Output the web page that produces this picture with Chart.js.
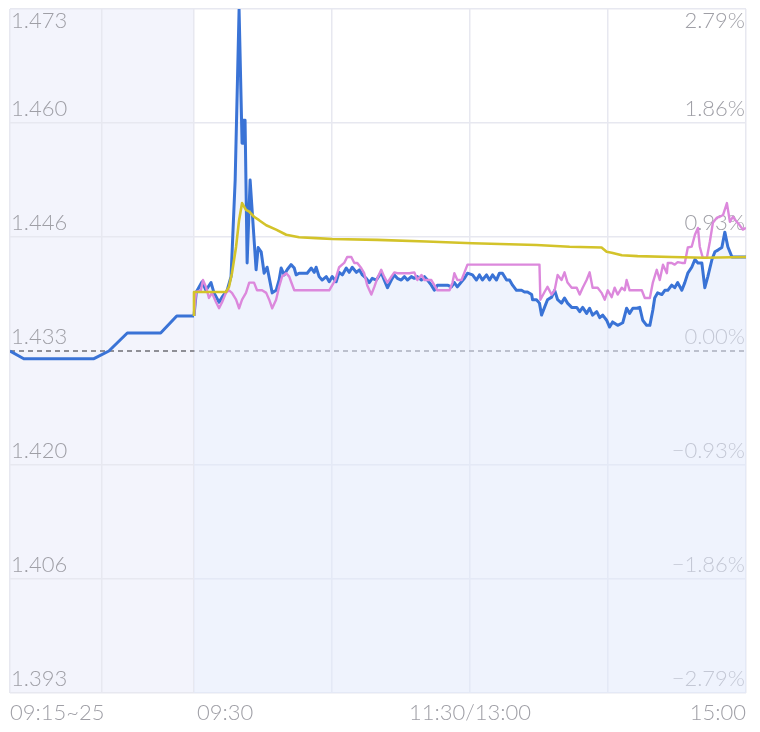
<!DOCTYPE html>
<html>
<head>
<meta charset="utf-8">
<script src="https://cdn.jsdelivr.net/npm/chart.js@4.4.1/dist/chart.umd.min.js"></script>
<style>
  html, body { margin: 0; padding: 0; background: #fff; }
  .chart-container { position: relative; width: 760px; height: 732px; }
</style>
</head>
<body>
<div class="chart-container"><canvas id="intraday"></canvas></div>
<script>
// previous close and price range of the y axis
const prevClose = 1.4333;
const priceMin = 1.3933;
const priceMax = 1.4733;

// tick labels (top to bottom)
const leftLabels = ["1.473", "1.460", "1.446", "1.433", "1.420", "1.406", "1.393"];
const rightLabels = ["2.79%", "1.86%", "0.93%", "0.00%", "\u22120.93%", "\u22121.86%", "\u22122.79%"];

// x axis: minutes from 09:30, auction before 0
const xGridValues = [-80, -40, 0, 60, 120, 180, 240];
const xLabelValues = [-80, 0, 120, 240];
const xLabels = ["09:15~25", "09:30", "11:30/13:00", "15:00"];
const xLabelAlign = ["left", "left", "center", "right"];

// call auction (09:15~25)
const auctionTimes = [-80, -74, -43.5, -37, -29, -14.5, -7.5, 0];
const auctionPrice = [1.4333, 1.4324, 1.4324, 1.4333, 1.4354, 1.4354, 1.4374, 1.4374];

// price
const priceTimes = [
  0, 1, 3.5, 5.2, 7.4, 8.7, 10.9, 12.2, 14.4, 16.1,
  17.9, 19.6, 20.9, 21.3, 22.2, 23.1, 24.4, 27.0, 27.9, 29.2,
  30.5, 31.8, 34.0, 35.7, 37.0, 37.9, 39.2, 40.5, 42.2, 43.6,
  44.4, 45.7, 49.2, 51.0, 52.3, 53.1, 54.4, 55.7, 57.5, 58.8,
  60.1, 61.8, 63.1, 64.5, 66.2, 67.5, 68.8, 70.6, 71.9, 73.2,
  74.9, 76.2, 77.5, 79.3, 81.4, 82.7, 84.1, 85.8, 87.1, 88.4,
  90.1, 91.5, 92.8, 94.5, 95.8, 97.1, 98.9, 100.2, 101.5, 103.2,
  104.5, 105.8, 108.0, 110.2, 111.9, 113.2, 114.5, 116.3, 117.6, 118.9,
  121.1, 122.8, 124.1, 125.4, 127.2, 128.5, 129.8, 131.5, 132.8, 134.1,
  135.9, 137.2, 138.5, 140.2, 142.4, 143.7, 145.0, 146.8, 147.2, 148.9,
  150.2, 151.1, 152.4, 153.7, 155.5, 156.8, 158.1, 159.8, 161.1, 162.4,
  164.2, 166.4, 167.7, 169.0, 170.7, 172.0, 173.3, 175.1, 176.4, 177.7,
  179.4, 180.7, 182.0, 184.2, 186.4, 188.1, 189.4, 190.8, 192.5, 193.8,
  195.1, 196.8, 198.2, 199.5, 200.3, 201.6, 203.4, 204.7, 206.0, 207.7,
  209.0, 210.3, 212.1, 213.4, 214.7, 216.4, 217.8, 219.1, 220.8, 222.1,
  223.4, 225.2, 226.5, 227.8, 229.5, 230.8, 232.1, 233.9, 236.0, 240
];
const priceValues = [
  1.4374, 1.4402, 1.4414, 1.4404, 1.4413, 1.4401, 1.4390, 1.4396, 1.4404, 1.4420,
  1.4533, 1.4732, 1.4576, 1.4603, 1.4603, 1.4436, 1.4533, 1.4428, 1.4454, 1.4449,
  1.4424, 1.4431, 1.4401, 1.4404, 1.4416, 1.4430, 1.4422, 1.4428, 1.4434, 1.4430,
  1.4422, 1.4424, 1.4424, 1.4430, 1.4425, 1.4431, 1.4420, 1.4416, 1.4420, 1.4414,
  1.4420, 1.4414, 1.4425, 1.4422, 1.4430, 1.4425, 1.4431, 1.4425, 1.4428, 1.4422,
  1.4418, 1.4413, 1.4418, 1.4416, 1.4425, 1.4416, 1.4407, 1.4416, 1.4422, 1.4418,
  1.4416, 1.4420, 1.4416, 1.4420, 1.4418, 1.4420, 1.4416, 1.4420, 1.4416, 1.4410,
  1.4404, 1.4410, 1.4410, 1.4410, 1.4408, 1.4413, 1.4408, 1.4414, 1.4418, 1.4424,
  1.4422, 1.4416, 1.4422, 1.4416, 1.4422, 1.4416, 1.4422, 1.4416, 1.4424, 1.4424,
  1.4416, 1.4416, 1.4410, 1.4404, 1.4404, 1.4402, 1.4402, 1.4399, 1.4393, 1.4393,
  1.4389, 1.4375, 1.4384, 1.4393, 1.4396, 1.4404, 1.4393, 1.4389, 1.4395, 1.4389,
  1.4384, 1.4384, 1.4379, 1.4384, 1.4377, 1.4383, 1.4375, 1.4379, 1.4372, 1.4375,
  1.4369, 1.4361, 1.4367, 1.4363, 1.4366, 1.4383, 1.4377, 1.4383, 1.4383, 1.4384,
  1.4369, 1.4363, 1.4363, 1.4381, 1.4395, 1.4401, 1.4399, 1.4404, 1.4404, 1.4410,
  1.4407, 1.4413, 1.4404, 1.4413, 1.4424, 1.4431, 1.4440, 1.4436, 1.4436, 1.4407,
  1.4420, 1.4440, 1.4449, 1.4451, 1.4454, 1.4472, 1.4455, 1.4443, 1.4443, 1.4443
];

// estimate (pink)
const estimateTimes = [
  0, 0.9, 3.0, 3.9, 5.2, 6.5, 7.8, 9.6, 10.9, 12.2,
  13.9, 15.2, 16.5, 18.3, 19.6, 20.9, 22.6, 24.0, 26.1, 27.4,
  29.6, 31.4, 32.7, 34.0, 35.7, 37.0, 38.3, 40.1, 41.4, 42.2,
  43.6, 58.8, 61.4, 63.1, 65.3, 66.6, 68.4, 69.7, 71.0, 72.7,
  74.0, 75.3, 77.1, 78.4, 79.7, 81.4, 82.7, 84.1, 85.8, 87.1,
  88.4, 93.6, 95.8, 97.1, 98.9, 100.2, 103.2, 104.5, 105.8, 111.1,
  112.4, 113.2, 114.5, 116.3, 117.6, 118.9, 150.2, 150.6, 152.4, 153.7,
  155.5, 156.8, 158.1, 159.8, 161.1, 162.4, 164.2, 166.4, 167.7, 169.0,
  170.7, 172.0, 173.3, 175.5, 177.2, 178.6, 179.9, 181.6, 182.9, 184.2,
  186.0, 187.3, 188.1, 189.4, 194.7, 196.0, 198.2, 199.5, 201.2, 202.5,
  203.9, 205.6, 206.0, 207.7, 209.0, 210.3, 212.1, 213.4, 214.7, 216.4,
  217.8, 219.1, 219.9, 221.2, 223.0, 224.3, 225.6, 227.4, 228.6, 230.0,
  231.7, 233.0, 234.3, 236.0, 237.3, 238.6, 240
];
const estimateValues = [
  1.4374, 1.4402, 1.4404, 1.4416, 1.4408, 1.4395, 1.4401, 1.4390, 1.4383, 1.4390,
  1.4401, 1.4404, 1.4401, 1.4393, 1.4383, 1.4393, 1.4401, 1.4413, 1.4413, 1.4404,
  1.4404, 1.4401, 1.4393, 1.4383, 1.4393, 1.4408, 1.4420, 1.4424, 1.4420, 1.4414,
  1.4404, 1.4404, 1.4416, 1.4431, 1.4436, 1.4443, 1.4443, 1.4436, 1.4436, 1.4430,
  1.4424, 1.4410, 1.4399, 1.4408, 1.4418, 1.4428, 1.4420, 1.4413, 1.4420, 1.4425,
  1.4424, 1.4424, 1.4425, 1.4416, 1.4422, 1.4416, 1.4416, 1.4410, 1.4404, 1.4404,
  1.4413, 1.4424, 1.4416, 1.4416, 1.4425, 1.4434, 1.4434, 1.4393, 1.4402, 1.4408,
  1.4399, 1.4404, 1.4422, 1.4416, 1.4425, 1.4413, 1.4407, 1.4407, 1.4399, 1.4407,
  1.4416, 1.4425, 1.4407, 1.4407, 1.4401, 1.4393, 1.4404, 1.4396, 1.4407, 1.4399,
  1.4407, 1.4404, 1.4416, 1.4404, 1.4404, 1.4395, 1.4395, 1.4413, 1.4428, 1.4416,
  1.4434, 1.4424, 1.4436, 1.4436, 1.4434, 1.4437, 1.4436, 1.4436, 1.4454, 1.4455,
  1.4469, 1.4477, 1.4455, 1.4442, 1.4442, 1.4461, 1.4483, 1.4489, 1.4490, 1.4492,
  1.4506, 1.4484, 1.4490, 1.4484, 1.4480, 1.4475, 1.4477
];

// average price (yellow)
const avgTimes = [
  0, 0, 13.9, 15.2, 16.5, 18.3, 19.6, 20.9, 22.6, 24.0,
  26.1, 28.3, 31.4, 35.7, 40.1, 45.7, 53.1, 60.1, 79.7, 101.0,
  121.1, 148.9, 163.3, 177.2, 179.4, 181.6, 186.0, 192.9, 207.7, 222.1,
  240
];
const avgValues = [
  1.4374, 1.4402, 1.4402, 1.4408, 1.4424, 1.4455, 1.4486, 1.4506, 1.4498, 1.4496,
  1.4490, 1.4486, 1.4480, 1.4475, 1.4469, 1.4466, 1.4465, 1.4464, 1.4463, 1.4461,
  1.4459, 1.4457, 1.4455, 1.4454, 1.4449, 1.4448, 1.4445, 1.4444, 1.4443, 1.4442,
  1.4443
];

const BLUE = "#3a73d6";
const PINK = "#dc88dc";
const YELLOW = "#d3c32a";
const GRID = "#e7e8f0";
const LABEL = "#9f9fa6";
const FONT = "300 22px Lato, 'Open Sans', sans-serif";

const toPoints = (times, values) => times.map((t, i) => ({ x: t, y: values[i] }));

const sessionPlugin = {
  id: "session",
  beforeDraw(chart) {
    const { ctx, chartArea, scales } = chart;
    const x0 = scales.x.getPixelForValue(-80);
    const x1 = scales.x.getPixelForValue(0);
    ctx.save();
    ctx.fillStyle = "#f3f4fc";
    ctx.fillRect(x0, chartArea.top, x1 - x0, chartArea.bottom - chartArea.top);
    ctx.restore();
  },
  beforeDatasetsDraw(chart) {
    const { ctx, chartArea, scales } = chart;
    const yZero = scales.y.getPixelForValue(prevClose);
    ctx.save();
    ctx.strokeStyle = "#8f8f96";
    ctx.lineWidth = 2;
    ctx.setLineDash([5, 4]);
    ctx.beginPath();
    ctx.moveTo(chartArea.left, yZero);
    ctx.lineTo(chartArea.right, yZero);
    ctx.stroke();
    ctx.setLineDash([]);

    ctx.font = FONT;
    ctx.fillStyle = LABEL;
    ctx.textBaseline = "middle";
    const ticks = scales.y.ticks.map((t) => t.value).sort((a, b) => b - a);
    ticks.forEach((value, i) => {
      const py = scales.y.getPixelForValue(value);
      const ty = i === 0 ? py + 12 : py - 14;
      ctx.textAlign = "left";
      ctx.fillText(leftLabels[i], chartArea.left + 1, ty);
      ctx.textAlign = "right";
      ctx.fillText(rightLabels[i], chartArea.right - 1, ty);
    });
    ctx.restore();
  },
  afterDraw(chart) {
    const { ctx, chartArea, scales } = chart;
    ctx.save();
    ctx.font = FONT;
    ctx.fillStyle = LABEL;
    ctx.textBaseline = "middle";
    xLabelValues.forEach((value, i) => {
      let px = scales.x.getPixelForValue(value);
      if (xLabelAlign[i] === "left" && i > 0) px += 3;
      ctx.textAlign = xLabelAlign[i];
      ctx.fillText(xLabels[i], px, chartArea.bottom + 20);
    });
    ctx.restore();
  },
};

const lineStyle = {
  pointRadius: 0,
  pointHoverRadius: 0,
  tension: 0,
  borderJoinStyle: "round",
};

new Chart(document.getElementById("intraday").getContext("2d"), {
  type: "line",
  data: {
    datasets: [
      {
        label: "均价",
        data: toPoints(avgTimes, avgValues),
        borderColor: YELLOW,
        borderWidth: 2.6,
        fill: false,
        order: 0,
        ...lineStyle,
      },
      {
        label: "估值",
        data: toPoints(estimateTimes, estimateValues),
        borderColor: PINK,
        borderWidth: 2.4,
        fill: false,
        order: 1,
        ...lineStyle,
      },
      {
        label: "价格",
        data: toPoints(priceTimes, priceValues),
        borderColor: BLUE,
        borderWidth: 3,
        backgroundColor: "rgba(226,233,251,0.55)",
        fill: "start",
        order: 2,
        ...lineStyle,
      },
      {
        label: "集合竞价",
        data: toPoints(auctionTimes, auctionPrice),
        borderColor: BLUE,
        borderWidth: 3,
        fill: false,
        order: 2,
        ...lineStyle,
      },
    ],
  },
  options: {
    responsive: true,
    maintainAspectRatio: false,
    animation: false,
    layout: { padding: { left: 10, right: 14, top: 9, bottom: 39 } },
    plugins: {
      legend: { display: false },
      tooltip: { enabled: false },
    },
    scales: {
      x: {
        type: "linear",
        min: -80,
        max: 240,
        afterBuildTicks: (scale) => {
          scale.ticks = xGridValues.map((v) => ({ value: v }));
        },
        ticks: { display: false },
        grid: { color: GRID, lineWidth: 1.5, drawTicks: false },
        border: { display: false },
      },
      y: {
        type: "linear",
        min: priceMin,
        max: priceMax,
        afterBuildTicks: (scale) => {
          const step = (priceMax - priceMin) / 6;
          scale.ticks = leftLabels.map((_, i) => ({ value: priceMin + i * step }));
        },
        ticks: { display: false },
        grid: {
          color: (ctx) =>
            ctx.tick && Math.abs(ctx.tick.value - prevClose) < 1e-6 ? "rgba(0,0,0,0)" : GRID,
          lineWidth: 1.5,
          drawTicks: false,
        },
        border: { display: false },
      },
    },
  },
  plugins: [sessionPlugin],
});
</script>
</body>
</html>
